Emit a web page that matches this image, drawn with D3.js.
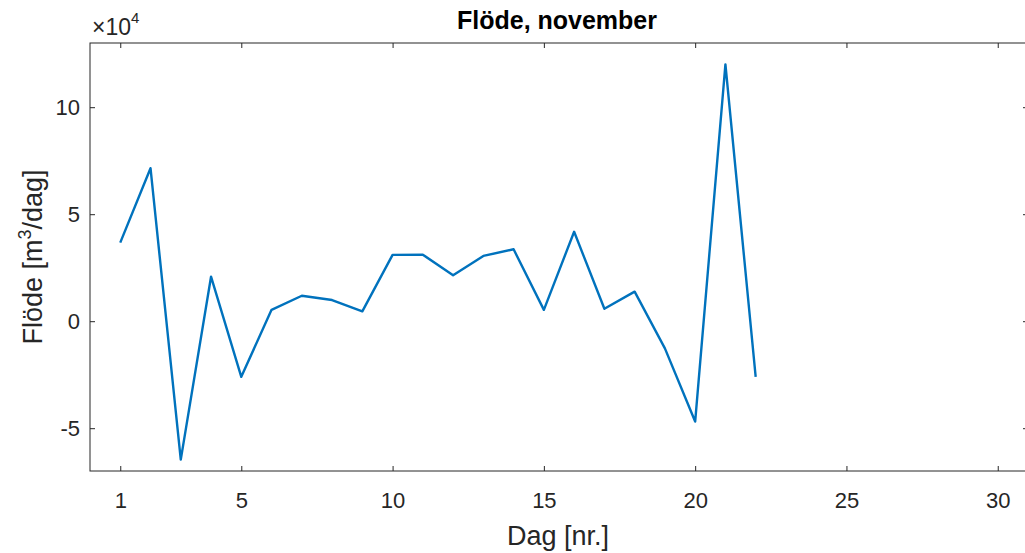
<!DOCTYPE html>
<html>
<head>
<meta charset="utf-8">
<script src="https://cdn.jsdelivr.net/npm/d3@7"></script>
<style>
  body { margin: 0; background: #fff; }
  svg { font-family: "Liberation Sans", Arial, sans-serif; }
</style>
</head>
<body>
<div id="chart"></div>
<script>
// dag i november
var days = [1, 2, 3, 4, 5, 6, 7, 8, 9, 10, 11, 12, 13, 14, 15, 16, 17, 18, 19, 20, 21, 22];
// flöde, m3/dag
var flow = [36700, 71500, -64700, 20800, -26000, 5300, 11900, 9900, 4600, 31000,
            31100, 21500, 30500, 33600, 5300, 41800, 5800, 13800, -12700, -46900,
            120000, -26000];
var xTicks = [1, 5, 10, 15, 20, 25, 30];
var yTicks = [-5, 0, 5, 10];

function drawChart() {
    var width = 1025, height = 553;
    var plotLeft = 90, plotTop = 43, plotRight = 1028, plotBottom = 471;
    var axisColor = "#262626";

    var svg = d3.select("#chart").append("svg")
        .attr("width", width)
        .attr("height", height);

    var x = d3.scaleLinear().domain([0, 31]).range([plotLeft, plotRight]);
    var y = d3.scaleLinear().domain([-7, 13]).range([plotBottom, plotTop]);

    // box
    svg.append("rect")
        .attr("x", plotLeft).attr("y", plotTop)
        .attr("width", plotRight - plotLeft).attr("height", plotBottom - plotTop)
        .attr("fill", "none").attr("stroke", axisColor).attr("stroke-width", 1);

    // plain hyphen for minus, like the original
    var fmt = function(d) { return String(d); };

    // x axis, ticks on bottom and top
    svg.append("g")
        .attr("transform", "translate(0," + plotBottom + ")")
        .call(d3.axisBottom(x).tickValues(xTicks).tickFormat(fmt).tickSizeInner(-5).tickSizeOuter(0).tickPadding(21));
    svg.append("g")
        .attr("transform", "translate(0," + plotTop + ")")
        .call(d3.axisTop(x).tickValues(xTicks).tickSizeInner(-5).tickSizeOuter(0).tickFormat(""));

    // y axis, ticks on left and right
    svg.append("g")
        .attr("transform", "translate(" + plotLeft + ",0)")
        .call(d3.axisLeft(y).tickValues(yTicks).tickFormat(fmt).tickSizeInner(-5).tickSizeOuter(0).tickPadding(10));
    svg.append("g")
        .attr("transform", "translate(" + plotRight + ",0)")
        .call(d3.axisRight(y).tickValues(yTicks).tickSizeInner(-5).tickSizeOuter(0).tickFormat(""));

    svg.selectAll(".domain").remove();
    svg.selectAll(".tick line").attr("stroke", axisColor);
    svg.selectAll(".tick text")
        .attr("fill", axisColor)
        .style("font-size", "22px")
        .style("font-family", "Liberation Sans, Arial, sans-serif");

    // exponent label
    var ex = svg.append("text")
        .attr("x", 92).attr("y", 35)
        .attr("fill", axisColor)
        .style("font-size", "23px");
    ex.append("tspan").text("\u00d710");
    ex.append("tspan").attr("dy", -12).style("font-size", "15px").text("4");

    // line
    var line = d3.line()
        .x(function(d, i) { return x(days[i]); })
        .y(function(d) { return y(d / 1e4); });

    svg.append("path")
        .datum(flow)
        .attr("d", line)
        .attr("fill", "none")
        .attr("stroke", "#0072BD")
        .attr("stroke-width", 2.4)
        .attr("stroke-linejoin", "round");

    // title
    svg.append("text")
        .attr("x", 557).attr("y", 29)
        .attr("text-anchor", "middle")
        .style("font-size", "25px")
        .style("font-weight", "bold")
        .attr("fill", "#000")
        .text("Flöde, november");

    // x label
    svg.append("text")
        .attr("x", 558).attr("y", 545)
        .attr("text-anchor", "middle")
        .style("font-size", "27px")
        .attr("fill", axisColor)
        .text("Dag [nr.]");

    // y label
    var yl = svg.append("text")
        .attr("transform", "translate(42," + ((plotTop + plotBottom) / 2) + ") rotate(-90)")
        .attr("text-anchor", "middle")
        .style("font-size", "27px")
        .attr("fill", axisColor);
    yl.append("tspan").text("Flöde [m");
    yl.append("tspan").attr("dy", -11).style("font-size", "18px").text("3");
    yl.append("tspan").attr("dy", 11).text("/dag]");
}

drawChart();
</script>
</body>
</html>
